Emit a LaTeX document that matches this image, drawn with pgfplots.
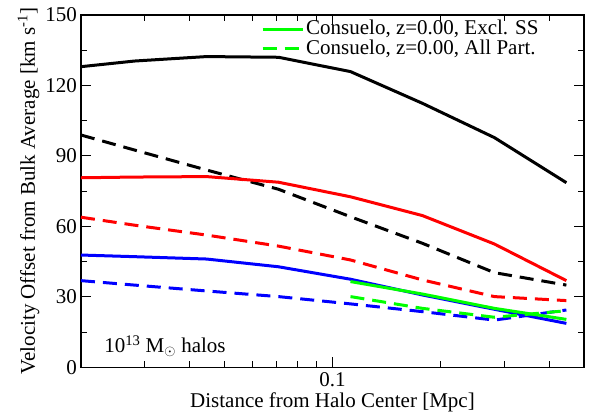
\documentclass[border=0pt]{standalone}
\usepackage{pgfplots}
\pgfplotsset{compat=1.18}
\usepackage{fontspec}
\setmainfont{Liberation Serif}

\newcommand{\chartfont}{\fontsize{21bp}{24bp}\selectfont}

\begin{document}
\chartfont
\begin{tikzpicture}[font=\chartfont]
\begin{axis}[
  scale only axis,
  width=503bp,
  height=352.3bp,
  xmode=log,
  xmin=0.02, xmax=0.5,
  ymin=0, ymax=150,
  xtick={0.1},
  xticklabels={0.1},
  minor xtick={0.03,0.04,0.05,0.06,0.07,0.08,0.09,0.2,0.3,0.4},
  ytick={0,30,60,90,120,150},
  yticklabels={0,30,60,90,120,150},
  minor ytick={15,45,75,105,135},
  tick align=inside,
  major tick length=10bp,
  minor tick length=6bp,
  axis line style={line width=1.2bp},
  every tick/.style={black, line width=1bp},
  yticklabel style={inner xsep=4bp},
  xticklabel style={inner ysep=5bp},
  xlabel={Distance from Halo Center [Mpc]},
  ylabel={Velocity Offset from Bulk Average [km s\textsuperscript{-1}]},
  xlabel style={at={(axis description cs:0.5,-0.1135)}, anchor=base},
  ylabel style={at={(axis description cs:-0.0915,0.5)}, anchor=base},
  legend style={draw=none, fill=none, at={(rel axis cs:0.352,0.997)},
    anchor=north west, cells={anchor=west}, row sep=-2bp,
    font=\chartfont},
  legend image code/.code={\draw[#1] (0bp,0bp) -- (40bp,0bp);},
  every axis plot/.append style={line width=3bp},
]
% bins at 10^(-1.55), 10^(-1.35), ... ; first point at the left edge
\addplot[black, forget plot] coordinates {
  (0.02,128.0) (0.02818,130.4) (0.04467,132.3) (0.07079,132.0)
  (0.1122,125.9) (0.1778,112.4) (0.2818,97.8) (0.4467,78.6)};
\addplot[black, dash pattern=on 14bp off 8bp, forget plot] coordinates {
  (0.02,98.9) (0.02818,92.5) (0.04467,84.0) (0.07079,75.8)
  (0.1122,64.1) (0.1778,52.8) (0.2818,40.3) (0.4467,35.0)};
\addplot[red, forget plot] coordinates {
  (0.02,80.7) (0.02818,81.0) (0.04467,81.2) (0.07079,78.8)
  (0.1122,72.6) (0.1778,64.6) (0.2818,52.5) (0.4467,36.9)};
\addplot[red, dash pattern=on 14bp off 8bp, forget plot] coordinates {
  (0.02,63.9) (0.02818,60.5) (0.04467,56.3) (0.07079,51.6)
  (0.1122,45.7) (0.1778,37.2) (0.2818,30.1) (0.4467,28.4)};
\addplot[blue, forget plot] coordinates {
  (0.02,47.8) (0.02818,47.1) (0.04467,46.1) (0.07079,42.8)
  (0.1122,37.5) (0.1778,30.8) (0.2818,24.7) (0.4467,18.7)};
\addplot[blue, dash pattern=on 14bp off 8bp, forget plot] coordinates {
  (0.02,36.9) (0.02818,35.0) (0.04467,32.5) (0.07079,30.1)
  (0.1122,27.0) (0.1778,23.7) (0.2818,20.1) (0.4467,24.4)};
\addplot[green] coordinates {
  (0.1122,36.5) (0.1778,31.2) (0.2818,25.1) (0.4467,20.4)};
\addlegendentry{Consuelo, z=0.00, Excl. SS}
\addplot[green, dash pattern=on 14bp off 8bp] coordinates {
  (0.1122,30.1) (0.1778,25.1) (0.2818,21.3) (0.4467,24.1)};
\addlegendentry{Consuelo, z=0.00, All Part.}

\node[anchor=base west] at (rel axis cs:0.032,0.041)
  {10\textsuperscript{13} M$_\odot$ halos};
\end{axis}
\pgfresetboundingbox
\path ([xshift=-81bp,yshift=-47.7bp]current axis.south west)
  rectangle ([xshift=13bp,yshift=15bp]current axis.north east);
\end{tikzpicture}
\end{document}
